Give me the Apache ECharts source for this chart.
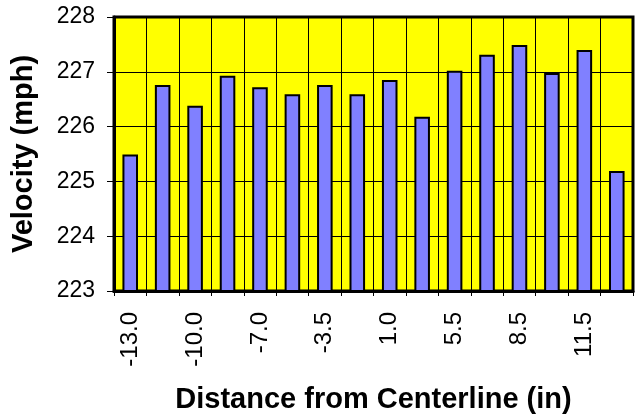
<!DOCTYPE html>
<html><head><meta charset="utf-8">
<script src="https://cdn.jsdelivr.net/npm/echarts@6/dist/echarts.min.js"></script>
<style>html,body{margin:0;padding:0;background:#fff}#c{width:637px;height:419px}</style>
</head><body><div id="c"></div>
<script>
const categories = ['-13.0','-11.5','-10.0','-8.5','-7.0','-5.0','-3.5','-1.0','1.0','3.0','5.5','7.0','8.5','10.0','11.5','13.0'];
const velocity = [225.49,226.76,226.38,226.93,226.72,226.59,226.76,226.59,226.85,226.18,227.02,227.31,227.49,226.98,227.40,225.19];
const yMin = 223, yMax = 228, yStep = 1;
const xTitle = 'Distance from Centerline (in)';
const yTitle = 'Velocity (mph)';

const FONT = '"Liberation Sans", Arial, sans-serif';
const chart = echarts.init(document.getElementById('c'), null, {renderer:'canvas'});
chart.setOption({
  animation:false,
  backgroundColor:'#fff',
  grid:{left:114,right:4,top:17,bottom:127,show:true,backgroundColor:'#FFFF00',borderColor:'#000',borderWidth:3},
  xAxis:{
    type:'category', data:categories, boundaryGap:true,
    name:xTitle, nameLocation:'middle', nameGap:94,
    nameTextStyle:{fontFamily:FONT,fontWeight:'bold',fontSize:29,color:'#000'},
    axisLine:{show:true,lineStyle:{color:'#000',width:3}},
    axisTick:{show:true,length:5,interval:0,alignWithLabel:false,lineStyle:{color:'#000',width:1}},
    axisLabel:{interval:1,rotate:90,margin:21,fontFamily:FONT,fontSize:24,color:'#000'},
    splitLine:{show:true,interval:0,lineStyle:{color:'#000',width:1}}
  },
  yAxis:{
    type:'value', min:yMin, max:yMax, interval:yStep,
    name:yTitle, nameLocation:'middle', nameGap:76,
    nameTextStyle:{fontFamily:FONT,fontWeight:'bold',fontSize:29,color:'#000'},
    axisLine:{show:true,lineStyle:{color:'#000',width:3}},
    axisTick:{show:true,length:7,lineStyle:{color:'#000',width:1}},
    axisLabel:{margin:19,fontFamily:FONT,fontSize:23,color:'#000'},
    splitLine:{show:true,lineStyle:{color:'#000',width:1}}
  },
  series:[{
    type:'bar', data:velocity, barWidth:'48%',
    itemStyle:{color:'#8080FF',borderColor:'#000',borderWidth:2}
  }]
});
</script></body></html>
